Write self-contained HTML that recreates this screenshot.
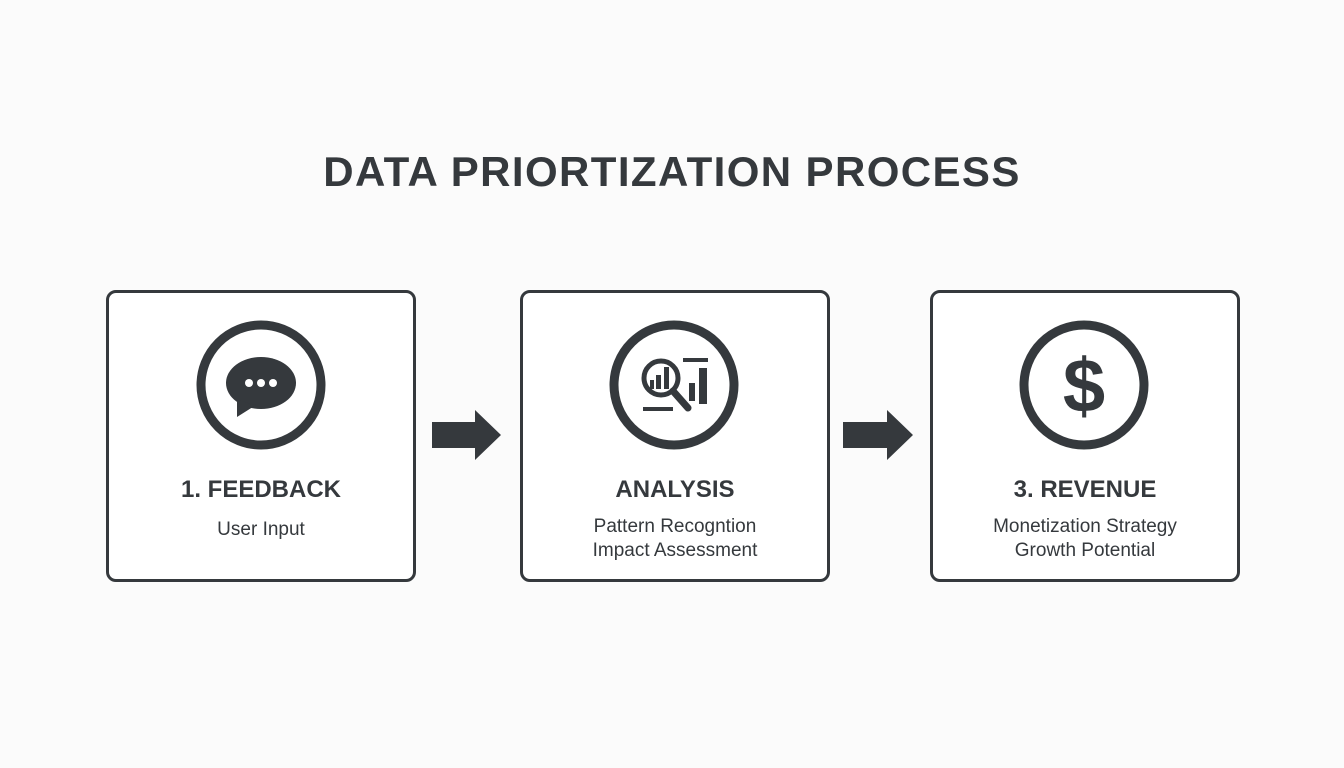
<!DOCTYPE html>
<html><head><meta charset="utf-8"><style>
body{margin:0;width:1344px;height:768px;background:#fbfbfb;font-family:"Liberation Sans",sans-serif;color:#35393d;position:relative;overflow:hidden}
.t{position:absolute;left:0;width:1344px;text-align:center;top:148px;font-size:42px;font-weight:bold;letter-spacing:1.4px}
.box{position:absolute;top:290px;width:304px;height:286px;border:3px solid #35393d;border-radius:10px;background:#fff}
.h{position:absolute;left:0;width:100%;text-align:center;top:183px;font-size:24px;font-weight:bold}
.s{position:absolute;left:0;width:100%;text-align:center;font-size:19px;line-height:24px}
svg{position:absolute}
</style></head><body>
<div class="t">DATA PRIORTIZATION PROCESS</div>
<div class="box" style="left:106px"><div class="h">1. FEEDBACK</div><div class="s" style="top:225px">User Input</div></div>
<div class="box" style="left:520px"><div class="h">ANALYSIS</div><div class="s" style="top:222px">Pattern Recogntion<br>Impact Assessment</div></div>
<div class="box" style="left:930px"><div class="h">3. REVENUE</div><div class="s" style="top:222px">Monetization Strategy<br>Growth Potential</div></div>
<svg width="1344" height="768" style="left:0;top:0">
<g fill="none" stroke="#35393d" stroke-width="9">
<circle cx="261" cy="385" r="60"/><circle cx="674" cy="385" r="60"/><circle cx="1084" cy="385" r="60"/>
</g>
<g fill="#35393d">
<ellipse cx="261" cy="383" rx="35" ry="26"/><polygon points="237,400 237,417 256,405"/>
<circle cx="249" cy="383" r="4" fill="#fff"/><circle cx="261" cy="383" r="4" fill="#fff"/><circle cx="273" cy="383" r="4" fill="#fff"/>
<polygon points="432,422 475,422 475,410 501,435 475,460 475,448 432,448"/>
<polygon points="843,422 887,422 887,410 913,435 887,460 887,448 843,448"/>
<rect x="643" y="407" width="30" height="4"/><rect x="683" y="358" width="25" height="4"/><rect x="699" y="368" width="8" height="36"/><rect x="689" y="383" width="6" height="18"/>
<rect x="650" y="380" width="4" height="9"/><rect x="656" y="375" width="5" height="14"/><rect x="664" y="367" width="5" height="22"/>
</g>
<circle cx="661" cy="378" r="17" fill="none" stroke="#35393d" stroke-width="5"/>
<line x1="673" y1="391" x2="688" y2="408" stroke="#35393d" stroke-width="7" stroke-linecap="round"/>
<text x="1084" y="412" text-anchor="middle" font-family="Liberation Sans" font-weight="bold" font-size="76" fill="#35393d">$</text>
</svg>
</body></html>
